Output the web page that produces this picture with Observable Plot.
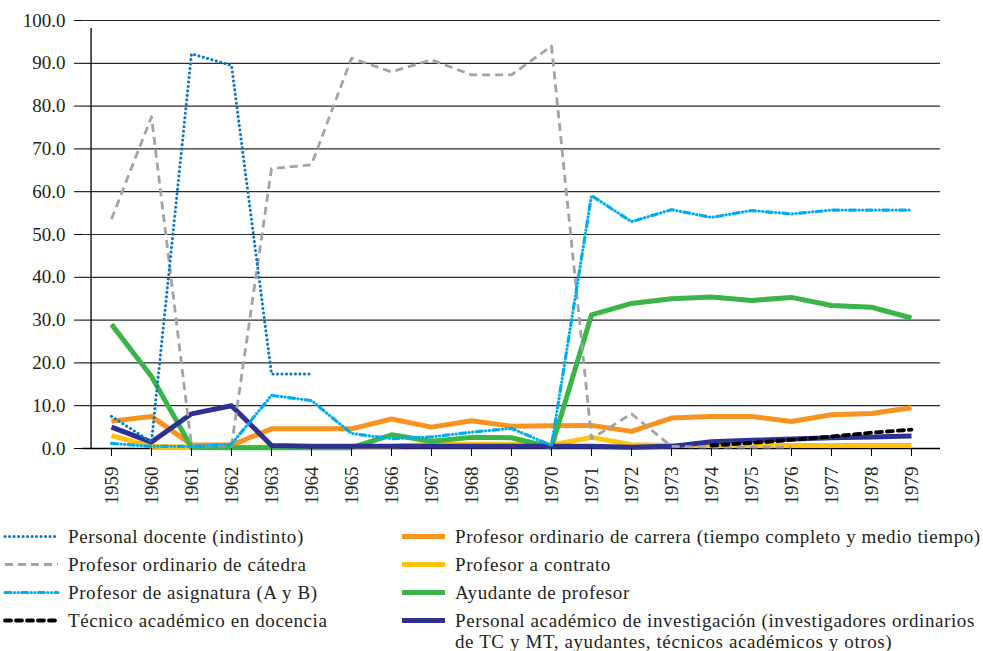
<!DOCTYPE html>
<html>
<head>
<meta charset="utf-8">
<script src="https://cdn.jsdelivr.net/npm/d3@7"></script>
<script src="https://cdn.jsdelivr.net/npm/@observablehq/plot@0.6"></script>
<style>
  html, body { margin: 0; padding: 0; background: #fff; overflow: hidden; }
  #wrap { position: relative; width: 983px; height: 651px; font-family: "Liberation Serif", serif; color: #231f20; }
  #chart { position: absolute; left: 0; top: 0; }
  #chart svg text { font-family: "Liberation Serif", serif !important; }
  .leg { position: absolute; height: 21px; line-height: 21px; font-size: 19px; letter-spacing: 0.6px; white-space: nowrap; }
  .leg svg { position: absolute; left: 0; top: 0; }
  .leg span { position: absolute; top: 0; }
</style>
</head>
<body>
<div id="wrap">
  <div id="chart"></div>
  <div id="legend"></div>
</div>
<script>
const years = ["1959","1960","1961","1962","1963","1964","1965","1966","1967","1968","1969","1970","1971","1972","1973","1974","1975","1976","1977","1978","1979"];
const yTicks = [0, 10, 20, 30, 40, 50, 60, 70, 80, 90, 100];

const personalDocente = [7.5, 1.5, 92.2, 89.5, 17.4, 17.4, null, null, null, null, null, null, null, null, null, null, null, null, null, null, null];
const ordinarioCatedra = [53.6, 77.5, 0.6, 0.6, 65.4, 66.3, 91.2, 88.0, 90.8, 87.3, 87.3, 94.0, 2.3, 8.1, 0.5, 0.3, 0.3, 0.3, null, null, null];
const asignatura = [1.2, 0.5, 0.5, 1.0, 12.4, 11.2, 3.5, 2.3, 2.7, 3.8, 4.7, 0.7, 59.1, 53.0, 55.8, 54.0, 55.6, 54.8, 55.7, 55.7, 55.7];
const tecnicoDocencia = [null, null, null, null, null, null, null, null, null, null, null, null, null, null, null, 0.7, 1.3, 2.0, 2.8, 3.7, 4.4];
const ordinarioCarrera = [6.4, 7.5, 0.9, 0.8, 4.6, 4.6, 4.6, 6.9, 5.0, 6.5, 5.2, 5.3, 5.4, 4.0, 7.1, 7.5, 7.5, 6.3, 7.9, 8.2, 9.5];
const contrato = [3.0, 0.5, 0.3, 0.3, 0.3, 0.3, 0.3, 0.5, 1.0, 1.0, 1.0, 0.8, 2.6, 0.9, 0.7, 0.7, 0.7, 0.7, 0.7, 0.7, 0.7];
const ayudante = [29.0, 16.8, 0.3, 0.2, 0.2, 0.2, 0.2, 3.2, 1.7, 2.6, 2.5, 0.3, 31.2, 33.9, 35.0, 35.4, 34.6, 35.3, 33.4, 33.0, 30.5];
const investigacion = [5.0, 1.5, 8.1, 10.0, 0.7, 0.5, 0.5, 0.5, 0.5, 0.5, 0.5, 0.5, 0.5, 0.3, 0.5, 1.6, 1.9, 2.2, 2.5, 2.7, 2.9];

const seriesNames = [
  "Personal docente (indistinto)",
  "Profesor ordinario de cátedra",
  "Profesor de asignatura (A y B)",
  "Técnico académico en docencia",
  "Profesor ordinario de carrera (tiempo completo y medio tiempo)",
  "Profesor a contrato",
  "Ayudante de profesor",
  "Personal académico de investigación (investigadores ordinarios<br>de TC y MT, ayudantes, técnicos académicos y otros)"
];
const seriesValues = [personalDocente, ordinarioCatedra, asignatura, tecnicoDocencia, ordinarioCarrera, contrato, ayudante, investigacion];

const styles = [
  {stroke: "#0a77c4", strokeWidth: 3, strokeDasharray: "0.1 4.4", strokeLinecap: "round"},
  {stroke: "#a2a3a6", strokeWidth: 2.8, strokeDasharray: "8 5", strokeLinecap: "butt"},
  {stroke: "#00aeef", strokeWidth: 3.2, strokeDasharray: "6 3.5 0.1 3.5 0.1 3.5", strokeLinecap: "round"},
  {stroke: "#000000", strokeWidth: 3.8, strokeDasharray: "6 5", strokeLinecap: "round"},
  {stroke: "#f7931e", strokeWidth: 5, strokeDasharray: null, strokeLinecap: "butt"},
  {stroke: "#ffc20e", strokeWidth: 5, strokeDasharray: null, strokeLinecap: "butt"},
  {stroke: "#3bb44a", strokeWidth: 5, strokeDasharray: null, strokeLinecap: "butt"},
  {stroke: "#2e3192", strokeWidth: 5, strokeDasharray: null, strokeLinecap: "butt"}
];

// drawing order (bottom to top)
const drawOrder = [5, 4, 6, 7, 1, 2, 0, 3];

function rowsFor(i) {
  return years.map((y, j) => ({year: y, value: seriesValues[i][j]}));
}

const lineMarks = drawOrder.map(i => Plot.line(rowsFor(i), {
  x: "year", y: "value",
  stroke: styles[i].stroke,
  strokeWidth: styles[i].strokeWidth,
  strokeDasharray: styles[i].strokeDasharray,
  strokeLinecap: styles[i].strokeLinecap,
  strokeLinejoin: "round"
}));

const serif = "Liberation Serif";
const chart = Plot.plot({
  width: 983,
  height: 520,
  marginLeft: 82,
  marginRight: 43,
  marginTop: 20,
  marginBottom: 72,
  style: "font-family: 'Liberation Serif', serif; font-size: 19px; color: #231f20; background: #fff;",
  x: {type: "point", domain: years, padding: 0.5, label: null},
  y: {domain: [0, 100], label: null},
  marks: [
    Plot.ruleY(yTicks, {stroke: "#2b2b2b", strokeWidth: 1.2}),
    Plot.ruleX([years[0]], {dx: -20.43, y1: 0, y2: 100, insetBottom: -8, stroke: "#000", strokeWidth: 1.3}),
    Plot.ruleY([0], {stroke: "#000", strokeWidth: 1.5}),
    ...lineMarks,
    Plot.axisY({ticks: yTicks, tickFormat: d => d.toFixed(1), tickSize: 8, tickPadding: 9, stroke: "#000", label: null, fontFamily: serif, fontSize: 19}),
    Plot.axisX({tickRotate: -90, tickSize: 8, tickPadding: 10, stroke: "#000", label: null, fontFamily: serif, fontSize: 19})
  ]
});
document.getElementById("chart").appendChild(chart);

// legend
const legendPos = [
  {x: 3, sw: 55, tx: 68, y: 536},
  {x: 3, sw: 55, tx: 68, y: 564},
  {x: 3, sw: 55, tx: 68, y: 592},
  {x: 3, sw: 55, tx: 68, y: 620},
  {x: 400, sw: 45, tx: 455, y: 536},
  {x: 400, sw: 45, tx: 455, y: 564},
  {x: 400, sw: 45, tx: 455, y: 592},
  {x: 400, sw: 45, tx: 455, y: 620}
];
const legend = document.getElementById("legend");
seriesNames.forEach((name, i) => {
  const p = legendPos[i];
  const s = styles[i];
  const d = document.createElement("div");
  d.className = "leg";
  d.style.left = p.x + "px";
  d.style.top = (p.y - 10.5) + "px";
  d.innerHTML = `<svg width="${p.sw + 4}" height="21"><line x1="2" x2="${p.sw}" y1="10.5" y2="10.5" stroke="${s.stroke}" stroke-width="${s.strokeWidth}" ${s.strokeDasharray ? `stroke-dasharray="${s.strokeDasharray}"` : ""} stroke-linecap="${s.strokeLinecap}"/></svg><span style="left:${p.tx - p.x}px">${name}</span>`;
  legend.appendChild(d);
});
</script>
</body>
</html>
